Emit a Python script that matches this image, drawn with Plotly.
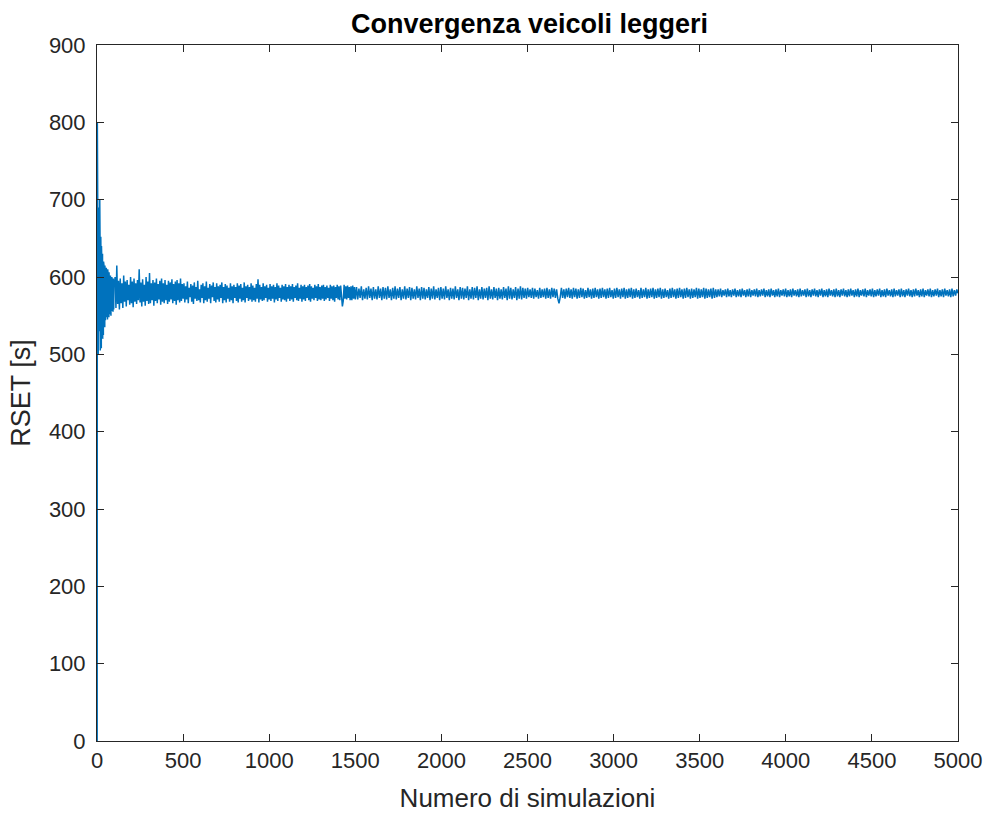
import plotly.graph_objects as go

# Simulation counts (x) for each segment of the series
n_a = list(range(1, 101))
n_b = list(range(105, 501, 5))
n_c = list(range(505, 1501, 5))
n_d = list(range(1507, 5001, 7))

# RSET values [s]
rset_a = [
    0, 800, 480, 640, 520, 610, 500, 650, 540, 600,
    510, 690, 560, 620, 530, 700, 545, 640, 505, 630,
    520, 652, 535, 610, 508, 640, 530, 625, 515, 600,
    545, 630, 520, 615, 540, 605, 525, 620, 550, 598,
    530, 612, 548, 590, 535, 615, 555, 600, 544, 608,
    560, 595, 546, 612, 552, 590, 548, 604, 558, 596,
    545, 610, 556, 592, 550, 600, 562, 594, 548, 606,
    558, 590, 552, 598, 560, 588, 555, 602, 562, 592,
    550, 596, 560, 590, 556, 600, 564, 588, 558, 594,
    560, 592, 555, 598, 566, 590, 558, 596, 562, 589,
]
rset_b = [
    600, 560, 615, 565, 595, 558, 598, 566, 592, 560,
    602, 568, 594, 562, 596, 570, 590, 564, 600, 566,
    594, 561, 598, 568, 592, 565, 596, 570, 610, 567,
    593, 562, 597, 568, 590, 563, 600, 569, 594, 565,
    605, 566, 592, 570, 596, 563, 593, 569, 598, 566,
    591, 571, 595, 564, 598, 568, 592, 566, 596, 570,
    590, 565, 595, 568, 593, 571, 597, 566, 591, 569,
    594, 564, 596, 570, 592, 567, 598, 569, 591, 572,
]
rset_c = [
    592, 567, 588, 571, 594, 566, 586, 574, 591, 568, 589, 565, 593, 572, 587, 569, 595, 570, 584, 567,
    590, 573, 592, 566, 588, 570, 594, 568, 586, 572, 591, 566, 589, 574, 593, 569, 587, 567, 592, 571,
    588, 568, 590, 573, 593, 566, 587, 570, 591, 567, 589, 572, 586, 568, 592, 570, 588, 566, 590, 573,
    587, 569, 592, 567, 589, 572, 591, 568, 586, 570, 593, 567, 588, 573, 590, 569, 587, 571, 592, 568,
    589, 570, 586, 568, 591, 572, 597, 567, 590, 571, 587, 569, 592, 570, 588, 573, 590, 568, 586, 571,
    591, 569, 588, 572, 590, 567, 587, 571, 592, 569, 589, 573, 586, 568, 590, 571, 588, 570, 591, 568,
    587, 572, 590, 569, 588, 571, 591, 568, 587, 573, 589, 570, 592, 569, 586, 572, 590, 568, 588, 571,
    590, 569, 587, 573, 589, 570, 591, 568, 588, 572, 586, 570, 590, 573, 588, 569, 591, 571, 587, 570,
    589, 572, 590, 569, 587, 571, 589, 573, 586, 569, 590, 572, 588, 570, 589, 568, 587, 573, 590, 571,
    588, 570, 589, 573, 562, 569, 590, 572, 588, 571, 589, 573, 587, 570, 588, 570, 589, 572, 587, 571,
]
rset_d = [
    587, 571, 585, 573, 588, 570, 584, 572, 586, 571, 588, 573, 585, 570, 587, 572, 584, 571, 588, 573,
    585, 570, 587, 572, 586, 571, 588, 573, 584, 570, 586, 572, 588, 571, 585, 573, 587, 570, 584, 572,
    588, 571, 585, 573, 587, 570, 586, 572, 584, 571, 588, 573, 585, 570, 587, 572, 586, 571, 584, 573,
    587, 570, 585, 572, 588, 571, 584, 573, 586, 570, 587, 572, 585, 571, 588, 573, 584, 570, 586, 572,
    585, 571, 588, 573, 584, 570, 587, 572, 586, 571, 585, 573, 588, 570, 584, 572, 587, 571, 586, 573,
    588, 570, 584, 572, 587, 571, 585, 573, 586, 570, 588, 572, 584, 571, 587, 573, 585, 570, 586, 572,
    584, 571, 587, 573, 585, 570, 588, 572, 586, 571, 584, 573, 587, 570, 585, 572, 588, 571, 586, 573,
    585, 572, 586, 574, 584, 573, 586, 572, 585, 574, 583, 572, 586, 573, 584, 574, 585, 572, 586, 573,
    584, 572, 586, 574, 585, 573, 584, 572, 566, 574, 586, 573, 584, 572, 585, 574, 586, 573, 584, 572,
    586, 574, 585, 572, 584, 573, 586, 574, 585, 572, 583, 573, 586, 574, 584, 572, 585, 573, 586, 574,
    584, 572, 585, 573, 586, 574, 584, 572, 585, 573, 586, 574, 583, 572, 585, 573, 586, 574, 584, 572,
    585, 574, 586, 572, 584, 573, 585, 574, 586, 572, 584, 573, 585, 574, 583, 572, 586, 573, 584, 574,
    586, 572, 584, 573, 585, 574, 586, 572, 584, 573, 585, 574, 586, 572, 584, 573, 585, 574, 583, 572,
    585, 573, 586, 574, 584, 572, 585, 573, 586, 574, 584, 572, 585, 573, 586, 574, 584, 572, 585, 573,
    584, 574, 586, 572, 585, 573, 584, 574, 586, 572, 585, 573, 584, 574, 585, 572, 586, 573, 584, 574,
    584, 575, 585, 574, 583, 576, 584, 574, 585, 575, 583, 574, 584, 576, 585, 574, 583, 575, 584, 574,
    585, 576, 583, 574, 584, 575, 585, 574, 583, 576, 584, 575, 585, 574, 583, 575, 584, 576, 585, 574,
    583, 575, 584, 574, 585, 576, 583, 574, 584, 575, 585, 574, 583, 576, 584, 575, 585, 574, 583, 575,
    584, 574, 585, 576, 583, 575, 584, 574, 585, 575, 583, 576, 584, 574, 585, 575, 583, 574, 584, 576,
    585, 575, 583, 574, 584, 576, 585, 574, 583, 575, 584, 574, 585, 576, 583, 575, 584, 574, 585, 575,
    583, 574, 584, 576, 585, 575, 583, 574, 584, 575, 585, 576, 583, 574, 584, 575, 585, 574, 583, 576,
    584, 575, 585, 574, 583, 576, 584, 575, 585, 574, 583, 575, 584, 576, 585, 574, 583, 575, 584, 574,
    585, 576, 583, 575, 584, 574, 585, 575, 583, 576, 584, 574, 585, 575, 583, 574, 584, 576, 585, 575,
    583, 574, 584, 575, 585, 576, 583, 574, 584, 575, 585, 574, 583, 576, 584, 575, 585, 574, 583, 575,
    584, 576, 585, 574, 583, 575, 584, 574, 585, 576, 583, 575, 584, 574, 585, 575, 583, 576, 584, 579,
]

x_ticks = [0, 500, 1000, 1500, 2000, 2500, 3000, 3500, 4000, 4500, 5000]
y_ticks = [0, 100, 200, 300, 400, 500, 600, 700, 800, 900]

x = n_a + n_b + n_c + n_d
y = rset_a + rset_b + rset_c + rset_d

AX = "#262626"
FONT = "Liberation Sans, Arial, sans-serif"

fig = go.Figure()
fig.add_trace(go.Scatter(
    x=x, y=y, mode="lines",
    line=dict(color="#0072BD", width=1.5),
    hoverinfo="skip", showlegend=False,
))

axis_common = dict(
    showline=True, linecolor=AX, linewidth=1, mirror="ticks",
    ticks="inside", ticklen=7, tickcolor=AX, tickwidth=1,
    showgrid=False, zeroline=False,
    tickfont=dict(family=FONT, size=22, color=AX),
)

fig.update_layout(
    width=989, height=813,
    paper_bgcolor="white", plot_bgcolor="white",
    margin=dict(l=97, r=31, t=45, b=72),
    title=dict(
        text="<b>Convergenza veicoli leggeri</b>",
        font=dict(family=FONT, size=27, color="black"),
        x=0.5354, xanchor="center", y=1 - 24 / 813, yanchor="middle",
    ),
    xaxis=dict(
        range=[0, 5000], tickvals=x_ticks, ticktext=[str(v) for v in x_ticks],
        title=dict(text="Numero di simulazioni", standoff=19,
                   font=dict(family=FONT, size=26, color=AX)),
        automargin=False,
        **axis_common,
    ),
    yaxis=dict(
        range=[0, 900], tickvals=y_ticks, ticktext=[str(v) for v in y_ticks],
        title=dict(text="RSET [s]", standoff=10,
                   font=dict(family=FONT, size=27, color=AX)),
        ticklabelstandoff=6,
        automargin=False,
        **axis_common,
    ),
)

fig.write_html(
    "out.html",
    config={"displayModeBar": False},
    post_script="document.body.style.margin='0';document.body.style.overflow='hidden';",
)
